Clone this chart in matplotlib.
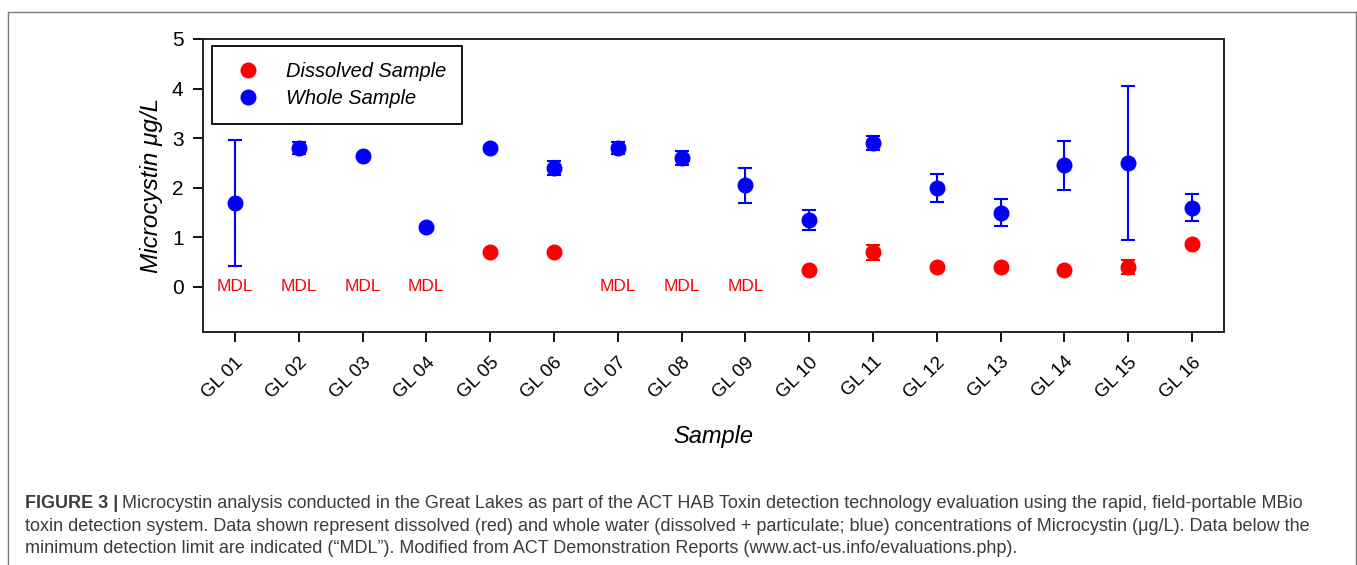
import matplotlib
matplotlib.use("Agg")
import matplotlib.pyplot as plt
from matplotlib.lines import Line2D

plt.rcParams['font.family'] = ['Liberation Sans', 'DejaVu Sans']

# ============================================================
# ДАННЫЕ
# ============================================================

samples = ['GL 01', 'GL 02', 'GL 03', 'GL 04', 'GL 05', 'GL 06', 'GL 07', 'GL 08',
           'GL 09', 'GL 10', 'GL 11', 'GL 12', 'GL 13', 'GL 14', 'GL 15', 'GL 16']

# whole sample (blue)
whole = [1.70, 2.80, 2.65, 1.20, 2.80, 2.40, 2.80, 2.60,
         2.05, 1.35, 2.90, 2.00, 1.50, 2.45, 2.50, 1.60]
whole_err = [1.27, 0.12, 0.0, 0.0, 0.0, 0.14, 0.12, 0.14,
             0.35, 0.21, 0.14, 0.28, 0.28, 0.50, 1.55, 0.28]

# dissolved sample (red); None = below MDL
dissolved = [None, None, None, None, 0.70, 0.70, None, None,
             None, 0.35, 0.70, 0.40, 0.40, 0.35, 0.40, 0.86]
dissolved_err = [0, 0, 0, 0, 0.0, 0.0, 0, 0,
                 0, 0.0, 0.15, 0.0, 0.0, 0.0, 0.15, 0.0]

y_ticks = [0, 1, 2, 3, 4, 5]

caption_bold = 'FIGURE 3 |'
caption_lines = [
    'Microcystin analysis conducted in the Great Lakes as part of the ACT HAB Toxin detection technology evaluation using the rapid, field-portable MBio',
    'toxin detection system. Data shown represent dissolved (red) and whole water (dissolved + particulate; blue) concentrations of Microcystin (\u03bcg/L). Data below the',
    'minimum detection limit are indicated (\u201cMDL\u201d). Modified from ACT Demonstration Reports (www.act-us.info/evaluations.php).',
]

# ============================================================
# ГРАФИК
# ============================================================

W, H = 1357, 565
fig = plt.figure(figsize=(W / 100, H / 100), dpi=100)
ax = fig.add_axes([203 / W, 1 - 331.5 / H, (1224 - 203) / W, (331.5 - 39) / H])

x = list(range(len(samples)))

# whole sample
ax.errorbar(x, whole, yerr=whole_err, fmt='o', color='#0000ff', ecolor='#0000ff',
            markersize=10.5, elinewidth=1.5, capsize=5, capthick=1.5, zorder=3)

# dissolved sample
xd = [i for i in x if dissolved[i] is not None]
yd = [dissolved[i] for i in xd]
ed = [dissolved_err[i] for i in xd]
ax.errorbar(xd, yd, yerr=ed, fmt='o', color='#ff0000', ecolor='#ff0000',
            markersize=10.5, elinewidth=1.5, capsize=5, capthick=1.5, zorder=3)

# MDL labels
for i in x:
    if dissolved[i] is None:
        ax.text(i, 0, 'MDL', color='#ff0000', fontsize=12.5, ha='center', va='center')

ax.set_xlim(-0.5, 15.5)
ax.set_ylim(-0.9, 5)
ax.set_yticks(y_ticks)
ax.set_xticks(x)
ax.set_xticklabels(samples, rotation=45, ha='right', rotation_mode='anchor', fontsize=13.5)
ax.tick_params(axis='x', direction='out', length=7, width=1.3, pad=9, top=False)
ax.tick_params(axis='y', direction='out', length=7, width=1.3, pad=7, labelsize=15, right=False)
for s in ax.spines.values():
    s.set_linewidth(1.4)
    s.set_color('#222222')

ax.set_ylabel('Microcystin \u03bcg/L', fontsize=17.5, style='italic', labelpad=6)
ax.set_xlabel('Sample', fontsize=17, style='italic', labelpad=17)

# легенда только с точками
handles = [
    Line2D([], [], marker='o', ls='none', color='#ff0000', markersize=10.5),
    Line2D([], [], marker='o', ls='none', color='#0000ff', markersize=10.5),
]
leg = ax.legend(handles, ['Dissolved Sample', 'Whole Sample'], loc='upper left',
                bbox_to_anchor=(0.0088, 0.977), borderaxespad=0, fancybox=False,
                edgecolor='black', framealpha=1, prop={'size': 14.4, 'style': 'italic'},
                handletextpad=0.9, borderpad=0.8, labelspacing=0.4)
leg.get_frame().set_linewidth(1.3)

# ============================================================
# РАМКА И ПОДПИСЬ
# ============================================================

border = '#7a7a7a'
fig.add_artist(Line2D([8 / W, 8 / W], [0, 1 - 12 / H], color=border, lw=1, transform=fig.transFigure))
fig.add_artist(Line2D([8 / W, 1355.5 / W], [1 - 12 / H, 1 - 12 / H], color=border, lw=1, transform=fig.transFigure))
fig.add_artist(Line2D([1355.5 / W, 1355.5 / W], [0, 1 - 12 / H], color=border, lw=1, transform=fig.transFigure))

cap_color = '#3c3c3c'
cap_size = 12.95
baselines = [508, 531, 553]
tb = fig.text(25 / W, 1 - baselines[0] / H, caption_bold, fontsize=cap_size, fontweight='bold',
              color=cap_color, va='baseline')
fig.canvas.draw()
bb = tb.get_window_extent()
fig.text((bb.x1 + 4) / W, 1 - baselines[0] / H, caption_lines[0], fontsize=cap_size,
         color=cap_color, va='baseline')
for line, yb in zip(caption_lines[1:], baselines[1:]):
    fig.text(25 / W, 1 - yb / H, line, fontsize=cap_size, color=cap_color, va='baseline')

fig.savefig('out.png', dpi=100)
